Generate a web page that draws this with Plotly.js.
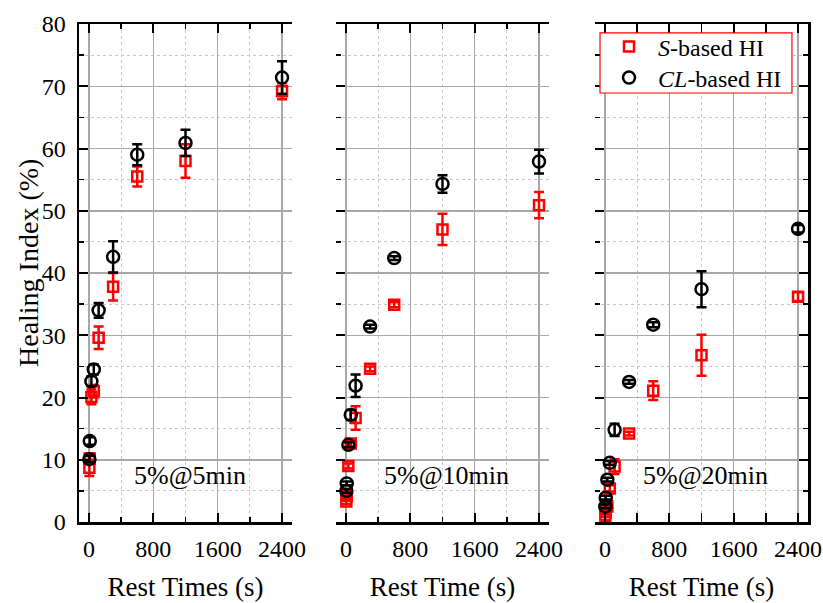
<!DOCTYPE html>
<html>
<head>
<meta charset="utf-8">
<script src="https://cdn.plot.ly/plotly-3.0.1.min.js"></script>
<style>html,body{margin:0;padding:0;background:#fff;}#chart{width:823px;height:603px;}</style>
</head>
<body>
<div id="chart"></div>
<script>
// Rest times (s)
const restTimes = [5, 10, 30, 60, 120, 300, 600, 1200, 2400];

// Panel 1: 5%@5min
const p1_S      = [8.7, 10.2, 20.1, 21.0, 29.6, 37.8, 55.5, 58.0, 69.2];
const p1_S_err  = [1.3, 0.8, 1.2, 1.0, 1.8, 2.2, 1.6, 2.7, 1.3];
const p1_CL     = [10.1, 13.0, 22.6, 24.5, 34.0, 42.6, 59.0, 60.9, 71.4];
const p1_CL_err = [0.5, 0.6, 0.8, 0.8, 1.2, 2.5, 1.7, 2.1, 2.6];

// Panel 2: 5%@10min
const p2_S      = [3.3, 4.2, 9.0, 12.6, 16.7, 24.6, 34.9, 47.0, 50.9];
const p2_S_err  = [0.4, 0.3, 0.4, 0.4, 1.9, 0.4, 0.4, 2.5, 2.1];
const p2_CL     = [5.0, 6.2, 12.4, 17.2, 21.9, 31.4, 42.4, 54.3, 57.9];
const p2_CL_err = [0.3, 0.3, 0.4, 0.8, 1.8, 0.3, 0.3, 1.4, 1.9];

// Panel 3: 5%@20min
const p3_S      = [0.9, 1.6, 2.5, 5.4, 8.9, 14.2, 21.1, 26.8, 36.2];
const p3_S_err  = [0.6, 0.4, 0.4, 0.5, 1.2, 0.3, 1.5, 3.3, 0.7];
const p3_CL     = [2.5, 3.9, 6.8, 9.5, 14.8, 22.5, 31.7, 37.4, 47.1];
const p3_CL_err = [0.3, 0.3, 0.3, 0.3, 1.0, 0.3, 0.4, 2.9, 0.6];

const panelLabels = ["5%@5min", "5%@10min", "5%@20min"];
const xTitles = ["Rest Times (s)", "Rest Time (s)", "Rest Time (s)"];
const yTitle = "Healing Index (%)";
const xTickVals = [0, 800, 1600, 2400];
const seriesNames = ["<i>S</i>-based HI", "<i>CL</i>-based HI"];

const FONT = "Liberation Serif, Times New Roman, serif";
const RED = "#ff0000";

const panels = [
  {S: p1_S, Se: p1_S_err, C: p1_CL, Ce: p1_CL_err},
  {S: p2_S, Se: p2_S_err, C: p2_CL, Ce: p2_CL_err},
  {S: p3_S, Se: p3_S_err, C: p3_CL, Ce: p3_CL_err}
];

const traces = [];
panels.forEach((p, i) => {
  const xa = i === 0 ? "x" : "x" + (i + 1);
  const ya = i === 0 ? "y" : "y" + (i + 1);
  traces.push({
    x: restTimes, y: p.S, xaxis: xa, yaxis: ya, type: "scatter", mode: "markers",
    name: seriesNames[0], showlegend: i === 0, legend: "legend",
    marker: {symbol: "square-open", size: 10, color: RED, line: {width: 2.5, color: RED}},
    error_y: {type: "data", array: p.Se, visible: true, color: RED, thickness: 2.5, width: 5},
    cliponaxis: false
  });
});
panels.forEach((p, i) => {
  const xa = i === 0 ? "x" : "x" + (i + 1);
  const ya = i === 0 ? "y" : "y" + (i + 1);
  traces.push({
    x: restTimes, y: p.C, xaxis: xa, yaxis: ya, type: "scatter", mode: "markers",
    name: seriesNames[1], showlegend: i === 0, legend: "legend2",
    marker: {symbol: "circle-open", size: 12, color: "#000", line: {width: 2.5, color: "#000"}},
    error_y: {type: "data", array: p.Ce, visible: true, color: "#000", thickness: 2.5, width: 5},
    cliponaxis: false
  });
});

const domains = [[0, 0.2922], [0.3525, 0.6447], [0.7078, 1.0]];
const GRID = "#a8a8a8";
const MINORGRID = "#c8c8c8";

function xAxis(i) {
  return {
    domain: domains[i], range: [-124, 2524], anchor: i === 0 ? "y" : "y" + (i + 1),
    tickvals: xTickVals, ticktext: xTickVals.map(String),
    showline: true, linecolor: "#000", linewidth: 2.5, mirror: "allticks",
    ticks: "inside", ticklen: 9, tickwidth: 2, tickcolor: "#000",
    showgrid: true, gridcolor: GRID, gridwidth: 1.5,
    zeroline: false,
    minor: {dtick: 400, tick0: 0, ticks: "inside", ticklen: 5, tickwidth: 1.5, tickcolor: "#000",
            showgrid: true, gridcolor: MINORGRID, griddash: "dot", gridwidth: 1},
    tickfont: {family: FONT, size: 24, color: "#000"},
    ticklabelstandoff: 4,
    title: {text: xTitles[i], font: {family: FONT, size: 27, color: "#000"}, standoff: 16},
    fixedrange: true
  };
}
function yAxis(i) {
  return {
    domain: [0, 1], range: [0, 80], anchor: i === 0 ? "x" : "x" + (i + 1),
    dtick: 10, tick0: 0,
    showline: i === 0, linecolor: "#000", linewidth: 2.5,
    ticks: "inside", ticklen: 9, tickwidth: 2, tickcolor: "#000",
    showgrid: true, gridcolor: GRID, gridwidth: 1.5,
    zeroline: false,
    showticklabels: i === 0,
    minor: {dtick: 5, tick0: 0, ticks: "inside", ticklen: 5, tickwidth: 1.5, tickcolor: "#000",
            showgrid: true, gridcolor: MINORGRID, griddash: "dot", gridwidth: 1},
    tickfont: {family: FONT, size: 24, color: "#000"},
    ticklabelstandoff: 6,
    title: {text: ""},
    fixedrange: true
  };
}

const legendCommon = {
  xanchor: "left", yanchor: "middle", bgcolor: "rgba(0,0,0,0)", borderwidth: 0,
  font: {family: FONT, size: 24, color: "#000"}, itemwidth: 48, tracegroupgap: 0
};

const annotations = panelLabels.map((t, i) => ({
  text: t, xref: (i === 0 ? "x" : "x" + (i + 1)) + " domain", yref: (i === 0 ? "y" : "y" + (i + 1)) + " domain",
  x: 0.52, y: 0.094, xanchor: "center", yanchor: "middle", showarrow: false,
  font: {family: FONT, size: 26, color: "#000"}
}));
annotations.push({
  text: yTitle, xref: "paper", yref: "paper", x: -0.07, y: 0.52,
  xanchor: "center", yanchor: "middle", textangle: -90, showarrow: false,
  font: {family: FONT, size: 28, color: "#000"}
});

const layout = {
  width: 823, height: 603,
  margin: {l: 79, r: 15, t: 24, b: 81},
  paper_bgcolor: "#fff", plot_bgcolor: "rgba(0,0,0,0)",
  showlegend: true,
  legend: Object.assign({x: 0.7147, y: 0.9538}, legendCommon),
  legend2: Object.assign({x: 0.7147, y: 0.8916}, legendCommon),
  xaxis: xAxis(0), xaxis2: xAxis(1), xaxis3: xAxis(2),
  yaxis: yAxis(0), yaxis2: yAxis(1), yaxis3: yAxis(2),
  yaxis4: {
    overlaying: "y3", side: "right", anchor: "x3", range: [0, 80], dtick: 10, tick0: 0,
    showline: true, linecolor: "#000", linewidth: 2.5,
    ticks: "inside", ticklen: 9, tickwidth: 2, tickcolor: "#000",
    showgrid: false, zeroline: false, showticklabels: false,
    minor: {dtick: 5, tick0: 0, ticks: "inside", ticklen: 5, tickwidth: 1.5, tickcolor: "#000", showgrid: false},
    fixedrange: true
  },
  shapes: [{
    type: "rect", xref: "paper", yref: "paper", layer: "above",
    x0: 0.7147, x1: 0.978, y0: 0.8614, y1: 0.982,
    line: {color: RED, width: 1.2}, fillcolor: "#fff"
  }],
  annotations: annotations
};

traces.push({x: [], y: [], xaxis: "x3", yaxis: "y4", type: "scatter", mode: "markers", showlegend: false, hoverinfo: "skip"});

Plotly.newPlot("chart", traces, layout, {displayModeBar: false, staticPlot: true});
</script>
</body>
</html>
